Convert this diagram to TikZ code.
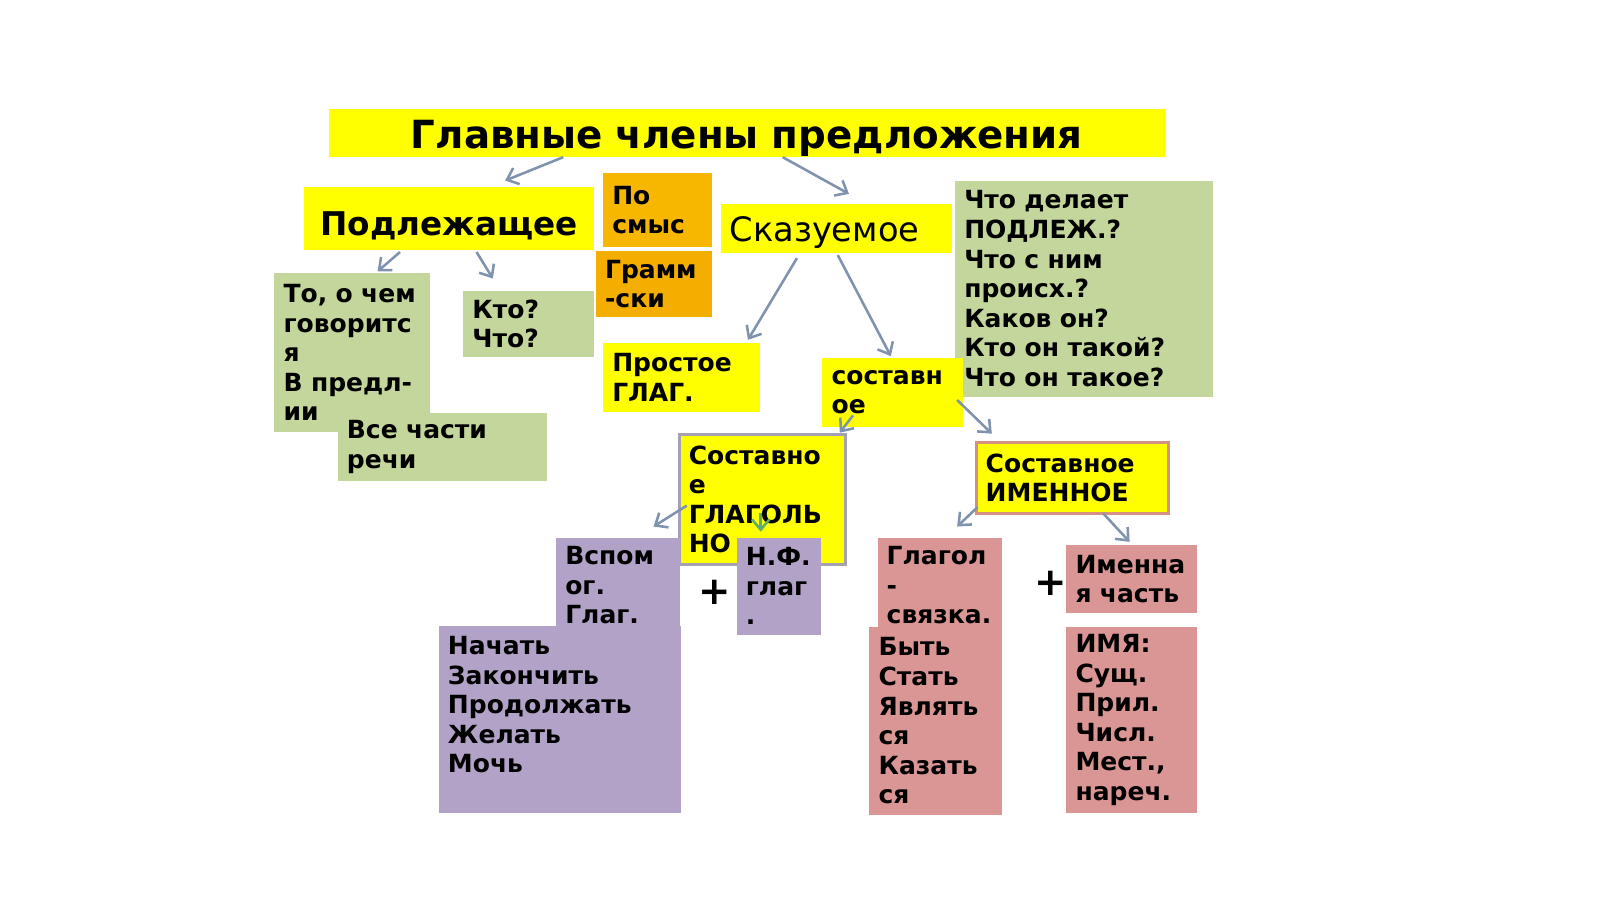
\documentclass[tikz,border=0pt]{standalone}
\usepackage{fontspec}
\setmainfont{DejaVu Sans}
\usetikzlibrary{arrows.meta}
\tikzset{>={Straight Barb[length=10pt,width=17pt]}}
\definecolor{gelb}{HTML}{FFFF00}
\definecolor{gruen}{HTML}{C3D69B}
\definecolor{orangeA}{HTML}{F7B700}
\definecolor{orangeB}{HTML}{F3AE00}
\definecolor{lila}{HTML}{B3A2C7}
\definecolor{rosa}{HTML}{D99694}
\definecolor{rahmengrau}{HTML}{A3A1B2}
\definecolor{pfeilfarbe}{HTML}{7F93AE}

\begin{document}
\begin{tikzpicture}[
    x = 1pt, y = -1pt,
    box/.style = {anchor=north west, inner xsep=9pt, inner ysep=0pt,
        outer sep=0pt, align=left,
        font=\bfseries\fontsize{24.5}{29}\selectfont},
    gbox/.style = {box, fill=gelb},
    grbox/.style = {box, fill=gruen},
    lbox/.style = {box, fill=lila},
    rbox/.style = {box, fill=rosa},
    pfeil/.style = {->, draw=pfeilfarbe, line width=2.5pt},
    plus/.style = {font=\bfseries\fontsize{38}{40}\selectfont}
  ]
  \useasboundingbox (0,0) rectangle (1568,881);

  % oben
  \node[gbox, align=center, text width=802pt, minimum height=47pt,
    text height=36pt, text depth=5pt,
    font=\bfseries\fontsize{38}{44}\selectfont] (title) at (322,107)
    {Главные члены предложения};
  \node[gbox, align=center, text width=266pt, minimum height=62pt,
    text height=40pt, text depth=7pt,
    font=\bfseries\fontsize{32}{38}\selectfont] (subj) at (298,183) {Подлежащее};
  \node[box, fill=orangeA, text width=89pt, minimum height=72pt] (smysl) at (591,170)
    {По\\смыс};
  \node[box, fill=orangeB, text width=96pt, minimum height=65pt] (gramm) at (584,246)
    {Грамм\\-ски};
  \node[gbox, text width=210pt, minimum height=48pt, text height=26pt, text depth=1pt,
    font=\fontsize{33}{38}\selectfont, inner xsep=8pt] (pred) at (707,200) {Сказуемое};
  \node[grbox, text width=235pt, minimum height=212pt] (frage) at (936,177)
    {Что делает\\ПОДЛЕЖ.?\\Что с ним\\происх.?\\Каков он?\\Кто он такой?\\Что он такое?};

  % Подлежащее
  \node[grbox, text width=134pt, minimum height=155pt] (tocem) at (269,268)
    {То,~о~чем\\говоритс\\я\\В~предл-\\ии};
  \node[grbox, text width=110pt, minimum height=65pt] (ktochto) at (454,285)
    {Кто?\\Что?};
  \node[grbox, text width=187pt, minimum height=66pt] (vse) at (331,405)
    {Все части\\речи};

  % Сказуемое
  \node[gbox, text width=136pt, minimum height=68pt] (prost) at (591,336)
    {Простое\\ГЛАГ.};
  \node[gbox, text width=120pt, minimum height=67pt] (sost) at (806,351)
    {составн\\ое};
  \node[gbox, draw=rahmengrau, line width=3pt, text width=145pt,
    minimum height=127pt] (vglag) at (666,426)
    {Составно\\е\\ГЛАГОЛЬ\\НО};
  \node[gbox, draw=rosa!80!brown, line width=3pt, text width=170pt,
    minimum height=69pt] (imen) at (957,434)
    {Составное\\ИМЕННОЕ};

  % глагольное
  \node[lbox, text width=103pt, minimum height=93pt] (vspom) at (545,527)
    {Вспом\\ог.\\Глаг.};
  \node[lbox, text width=219pt, minimum height=184pt] (nach) at (430,613)
    {Начать\\Закончить\\Продолжать\\Желать\\Мочь\\\mbox{}};
  \node[lbox, text width=65pt, minimum height=95pt] (nf) at (722,527)
    {Н.Ф.\\глаг\\.};
  \node[plus] (plusA) at (700,580) {+};

  % именное
  \node[rbox, text width=104pt, minimum height=93pt] (svjaz) at (860,527)
    {Глагол\\-\\связка.};
  \node[rbox, text width=112pt, minimum height=185pt] (byt) at (852,614)
    {Быть\\Стать\\Являть\\ся\\Казать\\ся};
  \node[rbox, text width=110pt, minimum height=67pt] (imenna) at (1045,534)
    {Именна\\я~часть};
  \node[rbox, text width=110pt, minimum height=183pt] (imja) at (1045,614)
    {ИМЯ:\\Сущ.\\Прил.\\Числ.\\Мест.,\\нареч.};
  \node[plus] (plusB) at (1030,572) {+};

  % Pfeile
  \draw[pfeil] ([xshift=-180pt]title.south) -- ([xshift=55pt,yshift=6pt]subj.north);
  \draw[pfeil] ([xshift=35pt]title.south) -- ([xshift=12pt,yshift=10pt]pred.north);
  \draw[pfeil] ([xshift=-48pt,yshift=-2pt]subj.south) -- ([xshift=25pt,yshift=2pt]tocem.north);
  \draw[pfeil] ([xshift=27pt,yshift=-2pt]subj.south) -- ([xshift=-35pt,yshift=12pt]ktochto.north);
  \draw[pfeil] ([xshift=-39pt,yshift=-5pt]pred.south) -- ([xshift=65pt,yshift=3pt]prost.north);
  \draw[pfeil] ([xshift=1pt,yshift=-2pt]pred.south) -- ([xshift=-2pt,yshift=2pt]sost.north);
  \draw[pfeil] ([xshift=-39pt,yshift=11pt]sost.south) -- ([xshift=-6pt,yshift=2pt]vglag.north east);
  \draw[pfeil] ([xshift=-6pt,yshift=26pt]sost.south east) -- ([xshift=-79pt,yshift=9pt]imen.north);
  \draw[pfeil] ([xshift=7pt,yshift=-6pt]vglag.west) -- ([xshift=35pt,yshift=11pt]vspom.north);
  \draw[pfeil, draw=pfeilfarbe!60!green!70!gray] ([xshift=-2pt,yshift=50pt]vglag.south) -- ([xshift=-18pt,yshift=6pt]nf.north);
  \draw[pfeil] ([xshift=1pt,yshift=6pt]imen.south west) -- ([xshift=17pt,yshift=11pt]svjaz.north);
  \draw[pfeil] ([xshift=30pt]imen.south) -- ([xshift=-2pt,yshift=3pt]imenna.north);
\end{tikzpicture}
\end{document}
